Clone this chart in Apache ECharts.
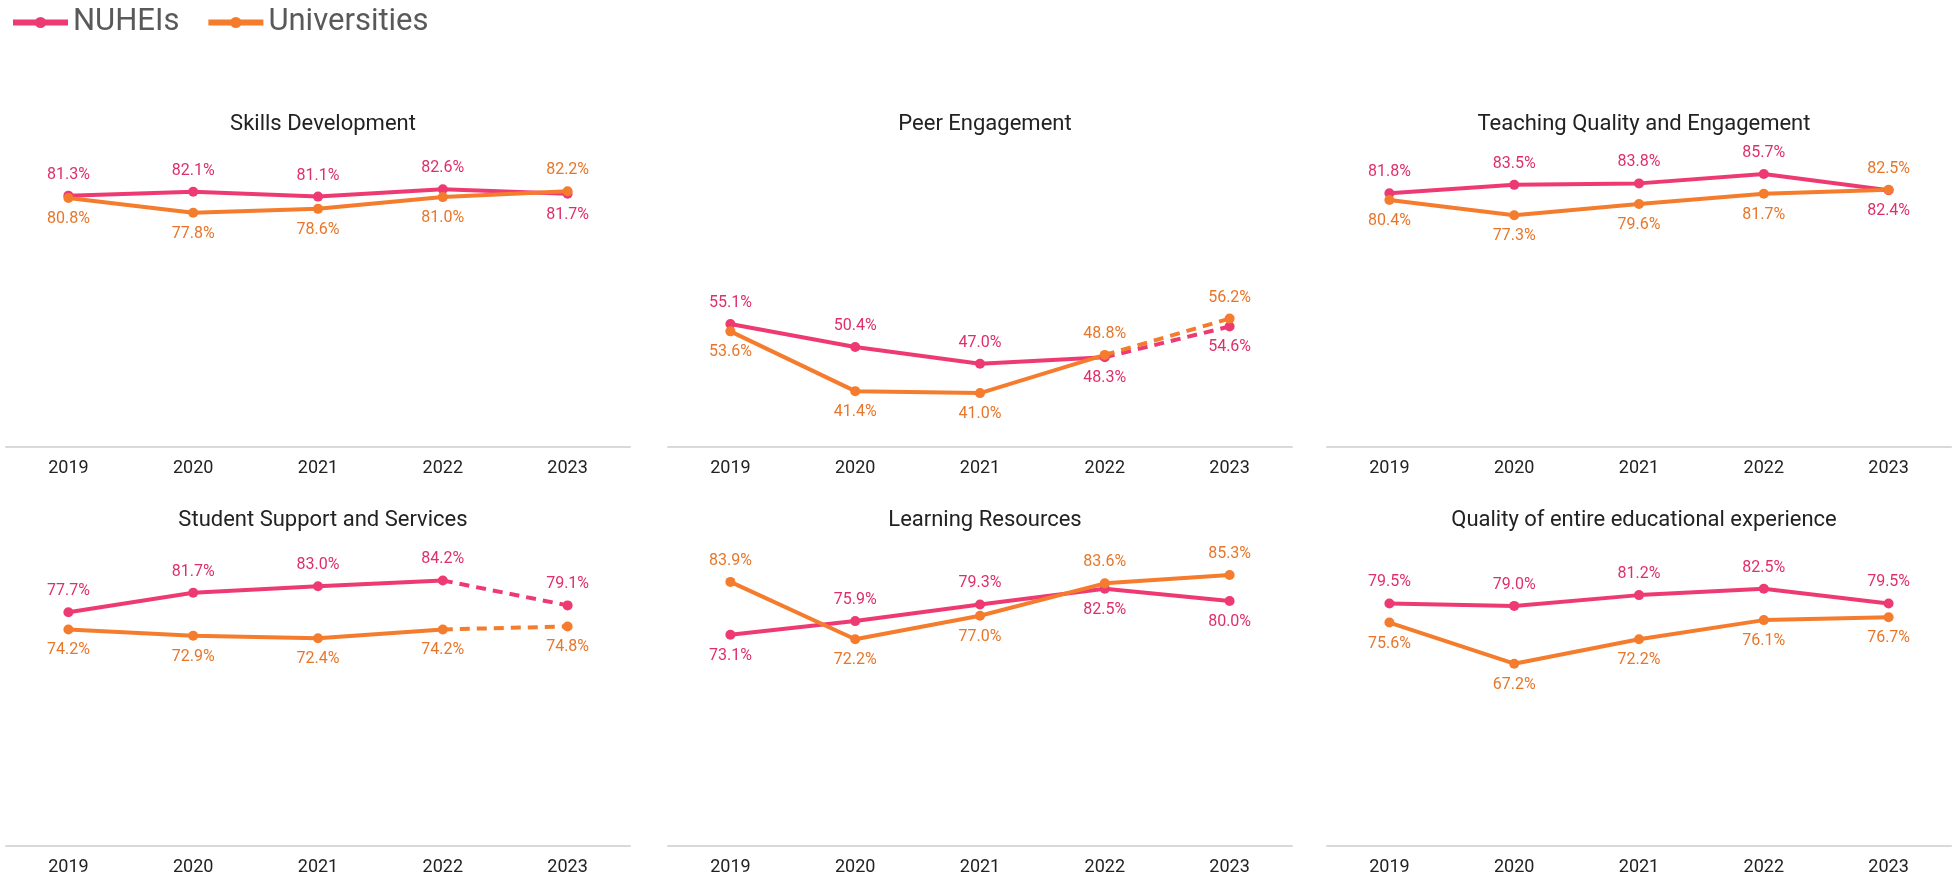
<!DOCTYPE html>
<html><head><meta charset="utf-8">
<script src="https://cdn.jsdelivr.net/npm/echarts@6/dist/echarts.min.js"></script>
<style>html,body{margin:0;padding:0;background:#fff}#c{width:1957px;height:877px}</style>
</head><body><div id="c"></div>
<script>
const years = ['2019','2020','2021','2022','2023'];
const titles = ['Skills Development','Peer Engagement','Teaching Quality and Engagement','Student Support and Services','Learning Resources','Quality of entire educational experience'];
const nuheis = [
  [81.3, 82.1, 81.1, 82.6, 81.7],
  [55.1, 50.4, 47.0, 48.3, 54.6],
  [81.8, 83.5, 83.8, 85.7, 82.4],
  [77.7, 81.7, 83.0, 84.2, 79.1],
  [73.1, 75.9, 79.3, 82.5, 80.0],
  [79.5, 79.0, 81.2, 82.5, 79.5]
];
const universities = [
  [80.8, 77.8, 78.6, 81.0, 82.2],
  [53.6, 41.4, 41.0, 48.8, 56.2],
  [80.4, 77.3, 79.6, 81.7, 82.5],
  [74.2, 72.9, 72.4, 74.2, 74.8],
  [83.9, 72.2, 77.0, 83.6, 85.3],
  [75.6, 67.2, 72.2, 76.1, 76.7]
];
const dashedLast = [false, true, false, true, false, false];

const PINK = '#EE3A73', ORANGE = '#F47C2C';
const PINK_L = '#DF2F6B', ORANGE_L = '#E8762A';
const FONT = 'Roboto';
const NARROW = '"Liberation Sans Narrow", "Roboto"';

const colLeft = [6, 668, 1327];
const colW = 624;
const rowBottom = [447, 846];
const titleCenter = [121, 517];
const plotH = 343;

const grids = [], xAxes = [], yAxes = [], series = [], titleOpts = [];
for (let p = 0; p < 6; p++) {
  const c = p % 3, r = Math.floor(p / 3);
  grids.push({left: colLeft[c], width: colW, top: rowBottom[r] - plotH, height: plotH});
  xAxes.push({type: 'category', gridIndex: p, data: years, boundaryGap: true,
    axisLine: {lineStyle: {color: '#D9D9D9', width: 2}}, axisTick: {show: false},
    axisLabel: {color: '#222', fontSize: 18, fontFamily: NARROW, margin: 12}});
  yAxes.push({type: 'value', gridIndex: p, min: 30, max: 100, show: false, splitLine: {show: false}});
  titleOpts.push({text: titles[p], left: colLeft[c] + colW / 2, top: titleCenter[r] - 13, textAlign: 'center',
    textStyle: {fontFamily: FONT, fontSize: 22, fontWeight: 'normal', color: '#222'}});

  const mk = (vals, other, name, color, lcolor, dashed) => {
    const n = vals.length;
    const item = (i) => ({value: vals[i], label: {position: vals[i] >= other[i] ? 'top' : 'bottom'}});
    const solidData = vals.map((v, i) => (dashed && i === n - 1) ? '-' : item(i));
    const base = {
      type: 'line', name: name, xAxisIndex: p, yAxisIndex: p, symbol: 'circle', symbolSize: 10,
      itemStyle: {color: color}, animation: false,
      label: {show: true, formatter: (d) => d.value.toFixed(1) + '%', color: lcolor, fontFamily: FONT, fontSize: 16, distance: 8}
    };
    series.push(Object.assign({}, base, {data: solidData, lineStyle: {color: color, width: 4}}));
    if (dashed) {
      const dData = vals.map((v, i) => i === n - 1 ? item(i) : (i === n - 2 ? {value: v, symbol: 'none', label: {show: false}} : '-'));
      series.push(Object.assign({}, base, {data: dData, lineStyle: {color: color, width: 4, type: [10, 7]}}));
    }
  };
  mk(nuheis[p], universities[p], 'NUHEIs', PINK, PINK_L, dashedLast[p]);
  mk(universities[p], nuheis[p], 'Universities', ORANGE, ORANGE_L, dashedLast[p]);
}

const chart = echarts.init(document.getElementById('c'));
chart.setOption({
  animation: false,
  title: titleOpts,
  legend: {data: ['NUHEIs', 'Universities'], left: 5, top: 2, itemWidth: 55, itemHeight: 14, itemGap: 26,
    lineStyle: {width: 6}, textStyle: {fontFamily: FONT, fontSize: 31, color: '#595959', padding: [0, 0, 0, 0]}},
  grid: grids, xAxis: xAxes, yAxis: yAxes, series: series
});
</script></body></html>
